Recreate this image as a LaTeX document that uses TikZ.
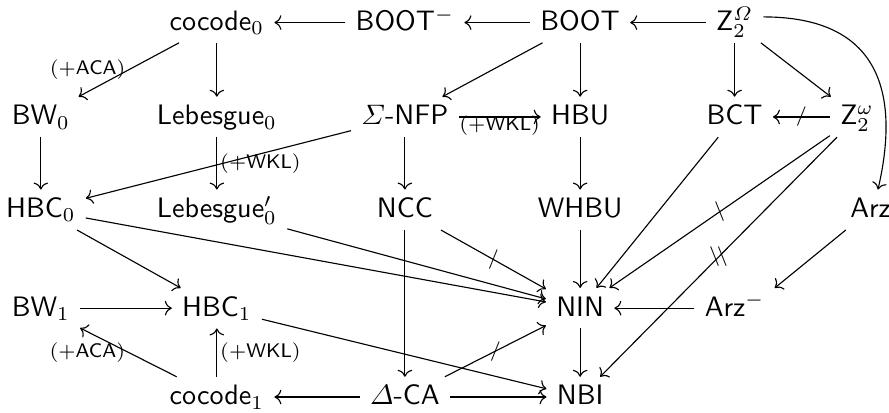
\documentclass[tikz,border=0pt]{standalone}
\usepackage{amsmath}
\usetikzlibrary{arrows.meta}

\tikzset{
  obj/.style={font=\sffamily, anchor=base, text height=6.9pt, text depth=1.3pt, inner xsep=3.5pt, inner ysep=2.9pt},
  lbl/.style={font=\scriptsize, inner sep=1pt},
  slash/.style={font=\scriptsize, inner sep=0pt},
}

\begin{document}
\begin{tikzpicture}[>={Computer Modern Rightarrow}]
				\useasboundingbox (0,0) rectangle (11.11,5.16);
				\node[obj] (c0) at (2.71,4.78) {cocode$_0$};
				\node[obj] (bootm) at (5.06,4.78) {BOOT$^-$};
				\node[obj] (boot) at (7.25,4.78) {BOOT};
				\node[obj] (zO) at (9.18,4.78) {Z$_2^{\varOmega}$};
				\node[obj] (bw0) at (0.51,3.60) {BW$_0$};
				\node[obj] (leb0) at (2.71,3.60) {Lebesgue$_0$};
				\node[obj] (nfp) at (5.06,3.60) {$\varSigma$-NFP};
				\node[obj] (hbu) at (7.25,3.60) {HBU};
				\node[obj] (bct) at (9.18,3.60) {BCT};
				\node[obj] (zw) at (10.71,3.60) {Z$_2^{\omega}$};
				\node[obj] (hbc0) at (0.51,2.44) {HBC$_0$};
				\node[obj] (lebp) at (2.71,2.44) {Lebesgue$'_0$};
				\node[obj] (ncc) at (5.06,2.44) {NCC};
				\node[obj] (whbu) at (7.25,2.44) {WHBU};
				\node[obj] (arz) at (10.88,2.44) {Arz};
				\node[obj] (bw1) at (0.51,1.21) {BW$_1$};
				\node[obj] (hbc1) at (2.71,1.21) {HBC$_1$};
				\node[obj] (nin) at (7.25,1.21) {NIN};
				\node[obj] (arzm) at (9.18,1.21) {Arz$^-$};
				\node[obj] (c1) at (2.71,0.10) {cocode$_1$};
				\node[obj] (dca) at (5.06,0.10) {$\varDelta$-CA};
				\node[obj] (nbi) at (7.25,0.10) {NBI};
				\draw[->] (bootm) -- (c0);
				\draw[->] (boot) -- (bootm);
				\draw[->] (zO) -- (boot);
				\draw[->] ([yshift=2pt]zO.east) .. controls +(1.38,0) and +(0.3,1.3) .. (arz.70);
				\draw[->] (c0) -- node[lbl, left] {$(+\mathsf{ACA})$} (bw0);
				\draw[->] (c0) -- (leb0);
				\draw[->] (boot) -- (nfp);
				\draw[->] (boot) -- (hbu);
				\draw[->] (zO) -- (bct);
				\draw[->] (zO) -- (zw);
				\draw[->] (nfp) -- node[lbl, below, yshift=1.5pt] {$(+\mathsf{WKL})$} (hbu);
				\draw[->] (zw) -- node[slash] {$/$} (bct);
				\draw[->] (bw0) -- (hbc0);
				\draw[->] (leb0) -- node[lbl, right] {$(+\mathsf{WKL})$} (lebp);
				\draw[->] (nfp) -- (hbc0);
				\draw[->] (nfp) -- (ncc);
				\draw[->] (hbu) -- (whbu);
				\draw[->] (bct) -- (nin);
				\draw[->] (zw) -- node[slash] {$\backslash$} (nin);
				\draw[->] (zw) -- node[slash] {$\backslash\mkern-3mu\backslash$} (nbi);
				\draw[->] (hbc0) -- (hbc1);
				\draw[->] (hbc0) -- (nin);
				\draw[->] (lebp) -- (nin);
				\draw[->] (ncc) -- node[slash] {$/$} (nin);
				\draw[->] (ncc) -- (dca);
				\draw[->] (whbu) -- (nin);
				\draw[->] (arz) -- (arzm.north east);
				\draw[->] (bw1) -- (hbc1);
				\draw[->] (arzm) -- (nin);
				\draw[->] (hbc1) -- (nbi);
				\draw[->] (nin) -- (nbi);
				\draw[->] (dca) -- (c1);
				\draw[->] (dca) -- (nbi);
				\draw[->] (dca) -- node[slash] {$/$} (nin);
				\draw[->] (c1) -- node[lbl, right] {$(+\mathsf{WKL})$} (hbc1);
				\draw[->] (c1) -- node[lbl, left] {$(+\mathsf{ACA})$} (bw1);
			\end{tikzpicture}
\end{document}
